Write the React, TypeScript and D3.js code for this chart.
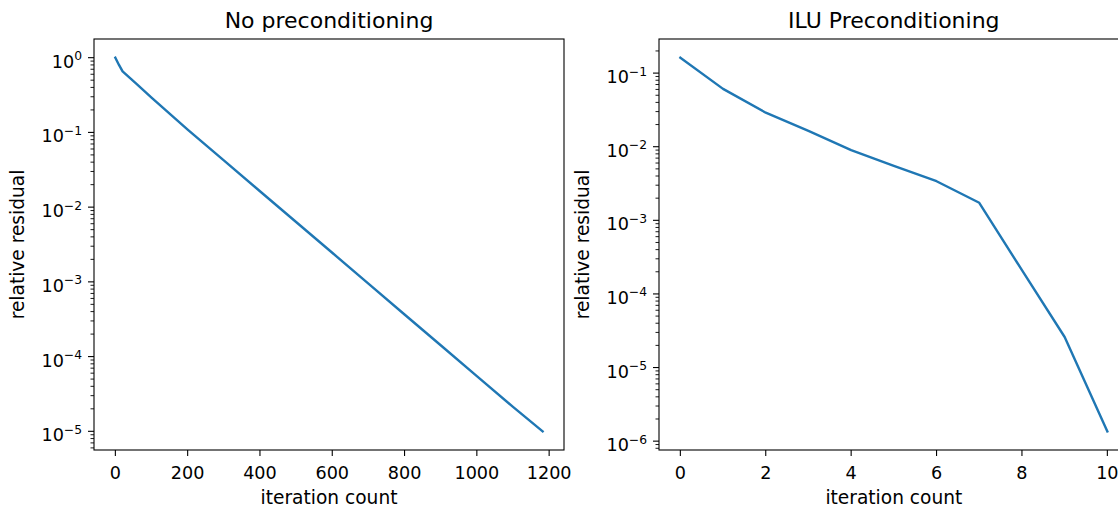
import React from "react";
import * as d3 from "d3";

// Left panel: no preconditioning
const noPrecIter = [0, 10, 20, 40, 60, 100, 200, 300, 400, 500, 600, 700, 800, 900, 1000, 1100, 1182];
const noPrecResidual = [1.0, 0.8, 0.655, 0.535, 0.44, 0.292, 0.109, 0.0422, 0.0163, 0.00632, 0.00245, 0.000946, 0.000366, 0.000142, 0.0000548, 0.0000212, 0.00001];

// Right panel: ILU preconditioning
const iluIter = [0, 1, 2, 3, 4, 5, 6, 7, 8, 9, 10];
const iluResidual = [0.162, 0.061, 0.029, 0.0164, 0.009, 0.0055, 0.0034, 0.00173, 0.00021, 0.000026, 0.00000136];

const leftXTicks = [0, 200, 400, 600, 800, 1000, 1200];
const rightXTicks = [0, 2, 4, 6, 8, 10];

const titles = ["No preconditioning", "ILU Preconditioning"];
const xLabel = "iteration count";
const yLabel = "relative residual";

const W = 1118;
const H = 508;
const FONT = "DejaVu Sans, sans-serif";
const TICK_FS = 17.6;
const LABEL_FS = 18.6;
const TITLE_FS = 22;
const LINE_COLOR = "#1f77b4";

function Panel({
  xs,
  ys,
  xTicks,
  left,
  right,
  top,
  bottom,
  title,
  yLabelX,
}: {
  xs: number[];
  ys: number[];
  xTicks: number[];
  left: number;
  right: number;
  top: number;
  bottom: number;
  title: string;
  yLabelX: number;
}) {
  const xMin = d3.min(xs)!;
  const xMax = d3.max(xs)!;
  const xPad = (xMax - xMin) * 0.05;
  const x = d3.scaleLinear().domain([xMin - xPad, xMax + xPad]).range([left, right]);

  const lMin = Math.log10(d3.min(ys)!);
  const lMax = Math.log10(d3.max(ys)!);
  const lPad = (lMax - lMin) * 0.05;
  const y = d3
    .scaleLog()
    .domain([Math.pow(10, lMin - lPad), Math.pow(10, lMax + lPad)])
    .range([bottom, top]);

  const [d0, d1] = y.domain();
  const majors: number[] = [];
  const minors: number[] = [];
  for (let e = Math.floor(Math.log10(d0)); e <= Math.ceil(Math.log10(d1)); e++) {
    const p = Math.pow(10, e);
    if (p >= d0 && p <= d1) majors.push(e);
    for (let k = 2; k <= 9; k++) {
      const v = k * p;
      if (v >= d0 && v <= d1) minors.push(v);
    }
  }

  const line = d3
    .line<number>()
    .x((_, i) => x(xs[i]))
    .y((v) => y(v));

  const cx = (left + right) / 2;
  const cy = (top + bottom) / 2;

  return (
    <g>
      <path d={line(ys) || ""} fill="none" stroke={LINE_COLOR} strokeWidth={2.4} strokeLinejoin="round" strokeLinecap="square" />
      <rect x={left} y={top} width={right - left} height={bottom - top} fill="none" stroke="#000" strokeWidth={1.1} />
      {xTicks.map((t) => (
        <g key={"x" + t}>
          <line x1={x(t)} x2={x(t)} y1={bottom} y2={bottom + 6} stroke="#000" strokeWidth={1.1} />
          <text x={x(t)} y={bottom + 29} textAnchor="middle" fontSize={TICK_FS} fontFamily={FONT} fill="#000">
            {t}
          </text>
        </g>
      ))}
      {minors.map((v, i) => (
        <line key={"m" + i} x1={left - 3.5} x2={left} y1={y(v)} y2={y(v)} stroke="#000" strokeWidth={0.9} />
      ))}
      {majors.map((e) => (
        <g key={"y" + e}>
          <line x1={left - 6} x2={left} y1={y(Math.pow(10, e))} y2={y(Math.pow(10, e))} stroke="#000" strokeWidth={1.1} />
          <text x={left - 12} y={y(Math.pow(10, e)) + 10} textAnchor="end" fontSize={TICK_FS} fontFamily={FONT} fill="#000">
            10
            <tspan fontSize={TICK_FS * 0.7} dy={-7.5}>
              {e < 0 ? "\u2212" + Math.abs(e) : String(e)}
            </tspan>
          </text>
        </g>
      ))}
      <text x={cx} y={bottom + 54} textAnchor="middle" fontSize={LABEL_FS} fontFamily={FONT} fill="#000">
        {xLabel}
      </text>
      <text
        transform={`translate(${yLabelX},${cy}) rotate(-90)`}
        textAnchor="middle"
        fontSize={LABEL_FS}
        fontFamily={FONT}
        fill="#000"
      >
        {yLabel}
      </text>
      <text x={cx} y={28} textAnchor="middle" fontSize={TITLE_FS} fontFamily={FONT} fill="#000">
        {title}
      </text>
    </g>
  );
}

export default function App() {
  return (
    <svg
      width={W}
      height={H}
      viewBox={`0 0 ${W} ${H}`}
      style={{ position: "absolute", left: 0, top: 0, background: "#fff", overflow: "hidden" }}
    >
      <rect x={0} y={0} width={W} height={H} fill="#fff" />
      <Panel xs={noPrecIter} ys={noPrecResidual} xTicks={leftXTicks} left={94} right={564} top={39} bottom={450} title={titles[0]} yLabelX={23.5} />
      <Panel xs={iluIter} ys={iluResidual} xTicks={rightXTicks} left={659} right={1128.7} top={39} bottom={450} title={titles[1]} yLabelX={589} />
    </svg>
  );
}
